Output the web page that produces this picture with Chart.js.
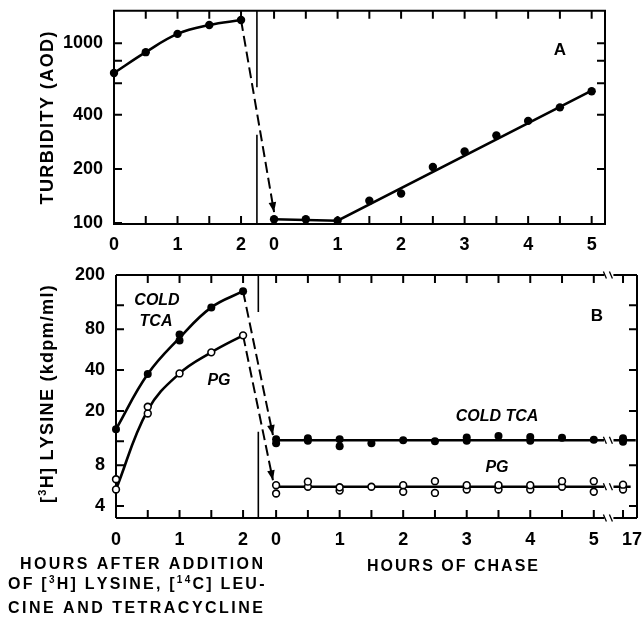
<!DOCTYPE html>
<html>
<head>
<meta charset="utf-8">
<script src="https://cdn.jsdelivr.net/npm/chart.js@4.4.1/dist/chart.umd.min.js"></script>
<style>
  html, body { margin: 0; padding: 0; background: #fff; }
  #page { position: relative; width: 644px; height: 621px; }
  .panel { position: absolute; left: 0; width: 644px; }
  #panelA { top: 0; height: 258px; }
  #panelB { top: 258px; height: 363px; }
</style>
</head>
<body>
<div id="page">
  <div class="panel" id="panelA"><canvas id="chartA"></canvas></div>
  <div class="panel" id="panelB"><canvas id="chartB"></canvas></div>
</div>
<script>
const FONT = "'Liberation Sans', Arial, Helvetica, sans-serif";

// x axis: pre-chase hours sit at 0..2, chase hours are shifted right
const CHASE_START = 2.52;
const HOUR17_POS = 7.98;   // the 17 h sample after the axis break
const BREAK_POS = 7.75;
const chaseX = (h) => (h === 17 ? HOUR17_POS : CHASE_START + h);

// ---- panel A: turbidity (AOD)
const preHours = [0, 0.5, 1, 1.5, 2];
const turbidityPre = [683, 892, 1127, 1263, 1346];
const chaseHours = [0, 0.5, 1, 1.5, 2, 2.5, 3, 3.5, 4, 4.5, 5];
const turbidityChase = [105, 105, 103, 133, 146, 205, 250, 307, 370, 440, 541];
const turbidityFitHours = [0, 1, 5];
const turbidityFit = [105, 103, 545];
const turbidityArrowTip = 115;

// ---- panel B: [3H] lysine (kdpm/ml)
const coldTcaPre = [14.7, 37.4, 73, 115.6, 152];
const coldTcaPre2 = [null, null, 66, null, null];
const pgPre = [6.3, 21.5, 37.8, 54, 72];
const pgPre2 = [5.3, 19.2, null, null, null];
const coldTcaPreFit = [14.7, 37.4, 69, 115.6, 152];
const pgPreFit = [5.3, 20.3, 37.8, 54, 72];

const chaseHoursB = [0, 0.5, 1, 1.5, 2, 2.5, 3, 3.5, 4, 4.5, 5, 17];
const coldTcaChase = [12.4, 12.6, 12.4, 11.6, 12.2, 12.0, 12.8, 13.1, 12.9, 12.7, 12.3, 12.6];
const coldTcaChase2 = [11.6, 12.1, 11.0, null, null, null, 12.1, null, 12.1, null, null, 11.9];
const pgChase = [5.7, 6.05, 5.5, 5.55, 5.7, 6.1, 5.7, 5.7, 5.7, 6.1, 6.1, 5.75];
const pgChase2 = [4.95, 5.55, 5.2, null, 5.1, 5.0, 5.3, 5.3, 5.3, 5.55, 5.1, 5.3];
const coldTcaPlateau = 12.2;
const pgPlateau = 5.55;
const coldTcaArrowTip = 13.3;
const pgArrowTip = 6.2;

// ---- ticks
const turbidityTicks = [100, 200, 400, 1000];
const turbidityMarks = [100, 200, 400, 600, 800, 1000];
const lysineTicks = [4, 8, 20, 40, 80, 200];
const lysineMarksLeft = [4, 8, 12, 20, 40, 80, 120];
const lysineMarksRight = [4, 8, 20, 40, 80, 120];
const preTickHours = [0, 1, 2];
const chaseTickHours = [0, 1, 2, 3, 4, 5];

const pts = (xs, ys) => xs.map((x, i) => ({ x, y: ys[i] })).filter((p) => p.y != null);
const halfHours = (from, to) => { const a = []; for (let h = from; h <= to + 1e-9; h += 0.5) a.push(h); return a; };

const xTicksA = [...preTickHours, ...chaseTickHours.map(chaseX)];
const xLabelsA = [...preTickHours, ...chaseTickHours].map(String);
const xTicksB = [...xTicksA, 8.12];
const xLabelsB = [...xLabelsA, '17'];
const xMarksA = [...halfHours(0.5, 2), ...halfHours(0, 5).map(chaseX)];
const xMarksB = [...xMarksA, HOUR17_POS];

// draw text char by char so it can be stretched to a given width; parts = [text, isSuperscript]
function drawRich(ctx, parts, x, y, size, width, italic) {
  const big = `${italic ? 'italic ' : ''}bold ${size}px ${FONT}`;
  const small = `bold ${Math.round(size * 0.62)}px ${FONT}`;
  let natural = 0, chars = 0;
  parts.forEach(([t, sup]) => { ctx.font = sup ? small : big; natural += ctx.measureText(t).width; chars += t.length; });
  const ls = width ? Math.max(0, (width - natural) / Math.max(chars - 1, 1)) : 0;
  const total = natural + ls * (chars - 1);
  let cx = width ? x : x - total / 2;
  ctx.textAlign = 'left';
  ctx.textBaseline = 'alphabetic';
  parts.forEach(([t, sup]) => {
    ctx.font = sup ? small : big;
    for (const ch of t) {
      ctx.fillText(ch, cx, sup ? y - size * 0.4 : y);
      cx += ctx.measureText(ch).width + ls;
    }
  });
}

const framePlugin = {
  id: 'frame',
  beforeDatasetsDraw(chart, args, o) {
    const { ctx, chartArea: a, scales: { x, y } } = chart;
    ctx.save();
    ctx.strokeStyle = '#000';
    ctx.lineWidth = 2;
    ctx.beginPath();
    if (o.breakAt != null) {
      const bx = x.getPixelForValue(o.breakAt);
      [a.top, a.bottom].forEach((yy) => {
        ctx.moveTo(a.left, yy); ctx.lineTo(bx - 4, yy);
        ctx.moveTo(bx + 5, yy); ctx.lineTo(a.right, yy);
      });
      ctx.moveTo(a.left, a.top); ctx.lineTo(a.left, a.bottom);
      ctx.moveTo(a.right, a.top); ctx.lineTo(a.right, a.bottom);
    } else {
      ctx.rect(a.left, a.top, a.right - a.left, a.bottom - a.top);
    }
    ctx.stroke();

    // inward tick marks on all four sides
    const len = 8;
    ctx.beginPath();
    o.xMarks.forEach((v) => {
      const px = x.getPixelForValue(v);
      ctx.moveTo(px, a.bottom); ctx.lineTo(px, a.bottom - len);
      ctx.moveTo(px, a.top); ctx.lineTo(px, a.top + len);
    });
    o.yMarksLeft.forEach((v) => {
      const py = y.getPixelForValue(v);
      ctx.moveTo(a.left, py); ctx.lineTo(a.left + len, py);
    });
    o.yMarksRight.forEach((v) => {
      const py = y.getPixelForValue(v);
      ctx.moveTo(a.right, py); ctx.lineTo(a.right - len, py);
    });
    ctx.stroke();
    ctx.restore();
  },
  afterDatasetsDraw(chart, args, o) {
    const { ctx, chartArea: a, scales: { x, y } } = chart;
    ctx.save();
    ctx.fillStyle = '#000';
    ctx.strokeStyle = '#000';

    // arrow heads at the end of the dashed transfer lines
    chart.data.datasets.forEach((ds, i) => {
      if (!ds.arrow) return;
      const els = chart.getDatasetMeta(i).data;
      const p1 = els[els.length - 2], p2 = els[els.length - 1];
      const ang = Math.atan2(p2.y - p1.y, p2.x - p1.x);
      ctx.save();
      ctx.translate(p2.x, p2.y);
      ctx.rotate(ang);
      ctx.beginPath();
      ctx.moveTo(0, 0); ctx.lineTo(-10, -3.8); ctx.lineTo(-10, 3.8); ctx.closePath();
      ctx.fill();
      ctx.restore();
    });

    // axis break marks
    if (o.breakAt != null) {
      const bx = x.getPixelForValue(o.breakAt);
      const ys = [a.top, a.bottom, ...o.breakLines.map((v) => y.getPixelForValue(v))];
      ctx.lineWidth = 1.3;
      ctx.beginPath();
      ys.forEach((yy) => {
        ctx.moveTo(bx - 5, yy - 3.5); ctx.lineTo(bx - 2, yy + 3.5);
        ctx.moveTo(bx + 1, yy - 3.5); ctx.lineTo(bx + 4, yy + 3.5);
      });
      ctx.stroke();
    }

    // text annotations (page coordinates)
    const dy = o.offsetTop || 0;
    o.texts.forEach((t) => {
      if (t.rotate) {
        ctx.save();
        ctx.translate(t.x, t.y - dy);
        ctx.rotate(-Math.PI / 2);
        drawRich(ctx, t.parts, -t.width / 2, 0, t.size, t.width, t.italic);
        ctx.restore();
      } else {
        drawRich(ctx, t.parts, t.x, t.y - dy, t.size, t.width, t.italic);
      }
    });
    ctx.restore();
  }
};

function axes(cfg) {
  return {
    x: {
      type: 'linear', min: 0, max: cfg.xMax,
      afterBuildTicks: (s) => { s.ticks = cfg.xTicks.map((v) => ({ value: v })); },
      afterFit: (s) => { s.height = 34; },
      grid: { drawOnChartArea: false, drawTicks: true, tickLength: cfg.xTickLen, color: 'rgba(0,0,0,0)' },
      border: { display: false },
      ticks: {
        padding: 0, autoSkip: false, maxRotation: 0, color: '#000',
        font: { family: FONT, size: 18, weight: 'bold' },
        callback: (v, i) => cfg.xLabels[i]
      }
    },
    y: {
      type: 'logarithmic', min: cfg.yMin, max: cfg.yMax,
      afterBuildTicks: (s) => { s.ticks = cfg.yTicks.map((v) => ({ value: v })); },
      afterFit: (s) => { s.width = cfg.yWidth; },
      grid: { drawOnChartArea: false, drawTicks: true, tickLength: 11, color: 'rgba(0,0,0,0)' },
      border: { display: false },
      ticks: {
        padding: 0, autoSkip: false, color: '#000',
        font: { family: FONT, size: 18, weight: 'bold' },
        callback: (v) => String(v)
      }
    }
  };
}

const dot = { showLine: false, pointRadius: 4.2, pointBackgroundColor: '#000', pointBorderColor: '#000', borderWidth: 0, clip: false };
const ring = { showLine: false, pointRadius: 3.4, pointBackgroundColor: '#fff', pointBorderColor: '#000', pointBorderWidth: 1.6, clip: false };
const curve = { pointRadius: 0, borderColor: '#000', borderWidth: 2.6, tension: 0.4, clip: false };
const straight = { pointRadius: 0, borderColor: '#000', borderWidth: 2.6, tension: 0, clip: false };
const dashed = { pointRadius: 0, borderColor: '#000', borderWidth: 2, borderDash: [11, 5], tension: 0, arrow: true, clip: false };
const divider = { pointRadius: 0, borderColor: '#000', borderWidth: 1.6, tension: 0, spanGaps: false };

// ---------- panel A
new Chart(document.getElementById('chartA'), {
  type: 'line',
  data: {
    datasets: [
      { ...dot, data: pts(preHours, turbidityPre) },
      { ...dot, data: pts(chaseHours.map(chaseX), turbidityChase) },
      { ...curve, data: pts(preHours, turbidityPre) },
      { ...straight, data: pts(turbidityFitHours.map(chaseX), turbidityFit) },
      { ...dashed, data: [{ x: 2, y: turbidityPre[4] }, { x: CHASE_START, y: turbidityArrowTip }] },
      { ...divider, data: [{ x: 2.25, y: 1515 }, { x: 2.25, y: 570 }, { x: 2.25, y: null }, { x: 2.25, y: 310 }, { x: 2.25, y: 98.8 }] }
    ]
  },
  options: {
    responsive: true, maintainAspectRatio: false, animation: false,
    layout: { padding: { left: 0, top: 10, right: 39, bottom: 0 } },
    scales: axes({ xMax: 7.73, xTicks: xTicksA, xLabels: xLabelsA, xTickLen: 10, yMin: 98.8, yMax: 1515, yTicks: turbidityTicks, yWidth: 114 }),
    plugins: {
      legend: { display: false }, tooltip: { enabled: false },
      frame: {
        xMarks: xMarksA, yMarksLeft: turbidityMarks, yMarksRight: turbidityMarks.slice(1),
        texts: [
          { parts: [['A']], x: 560, y: 55, size: 17 },
          { parts: [['TURBIDITY (AOD)']], x: 53, y: 118, size: 18, width: 173, rotate: true }
        ]
      }
    }
  },
  plugins: [framePlugin]
});

// ---------- panel B
const plateau = (level, end) => [
  { x: chaseX(0), y: level }, { x: BREAK_POS - 0.07, y: level }, { x: BREAK_POS, y: null },
  { x: BREAK_POS + 0.08, y: level }, { x: end, y: level }
];

new Chart(document.getElementById('chartB'), {
  type: 'line',
  data: {
    datasets: [
      { ...dot, pointRadius: 4, data: pts(preHours, coldTcaPre) },
      { ...dot, pointRadius: 4, data: pts(preHours, coldTcaPre2) },
      { ...dot, pointRadius: 4, data: pts(chaseHoursB.map(chaseX), coldTcaChase) },
      { ...dot, pointRadius: 4, data: pts(chaseHoursB.map(chaseX), coldTcaChase2) },
      { ...ring, data: pts(preHours, pgPre) },
      { ...ring, data: pts(preHours, pgPre2) },
      { ...ring, data: pts(chaseHoursB.map(chaseX), pgChase) },
      { ...ring, data: pts(chaseHoursB.map(chaseX), pgChase2) },
      { ...curve, data: pts(preHours, coldTcaPreFit) },
      { ...curve, data: pts(preHours, pgPreFit) },
      { ...straight, spanGaps: false, data: plateau(coldTcaPlateau, 8.18) },
      { ...straight, spanGaps: false, data: plateau(pgPlateau, 8.1) },
      { ...dashed, data: [{ x: 2, y: coldTcaPre[4] }, { x: 2.47, y: coldTcaArrowTip }] },
      { ...dashed, data: [{ x: 2, y: pgPre[4] }, { x: 2.47, y: pgArrowTip }] },
      { ...divider, data: [{ x: 2.24, y: 200 }, { x: 2.24, y: 107 }, { x: 2.24, y: null }, { x: 2.24, y: 14.1 }, { x: 2.24, y: 3.27 }] }
    ]
  },
  options: {
    responsive: true, maintainAspectRatio: false, animation: false,
    layout: { padding: { left: 0, top: 17, right: 7, bottom: 69 } },
    scales: axes({ xMax: 8.2, xTicks: xTicksB, xLabels: xLabelsB, xTickLen: 11, yMin: 3.27, yMax: 200, yTicks: lysineTicks, yWidth: 116 }),
    plugins: {
      legend: { display: false }, tooltip: { enabled: false },
      frame: {
        xMarks: xMarksB, yMarksLeft: lysineMarksLeft, yMarksRight: lysineMarksRight,
        breakAt: BREAK_POS, breakLines: [coldTcaPlateau, pgPlateau],
        offsetTop: 258,
        texts: [
          { parts: [['B']], x: 597, y: 321, size: 17 },
          { parts: [['COLD']], x: 157, y: 305, size: 16, italic: true },
          { parts: [['TCA']], x: 156, y: 326, size: 16, italic: true },
          { parts: [['PG']], x: 219, y: 385, size: 16, italic: true },
          { parts: [['COLD TCA']], x: 497, y: 421, size: 16, italic: true },
          { parts: [['PG']], x: 497, y: 472, size: 16, italic: true },
          { parts: [['['], ['3', 1], ['H] LYSINE (kdpm/ml)']], x: 53, y: 395, size: 18, width: 216, rotate: true },
          { parts: [['HOURS AFTER ADDITION']], x: 20, y: 569, size: 16, width: 243 },
          { parts: [['OF ['], ['3', 1], ['H] LYSINE, ['], ['14', 1], ['C] LEU-']], x: 8, y: 589, size: 16, width: 255 },
          { parts: [['CINE AND TETRACYCLINE']], x: 8, y: 613, size: 16, width: 255 },
          { parts: [['HOURS OF CHASE']], x: 367, y: 571, size: 16, width: 171 }
        ]
      }
    }
  },
  plugins: [framePlugin]
});
</script>
</body>
</html>
